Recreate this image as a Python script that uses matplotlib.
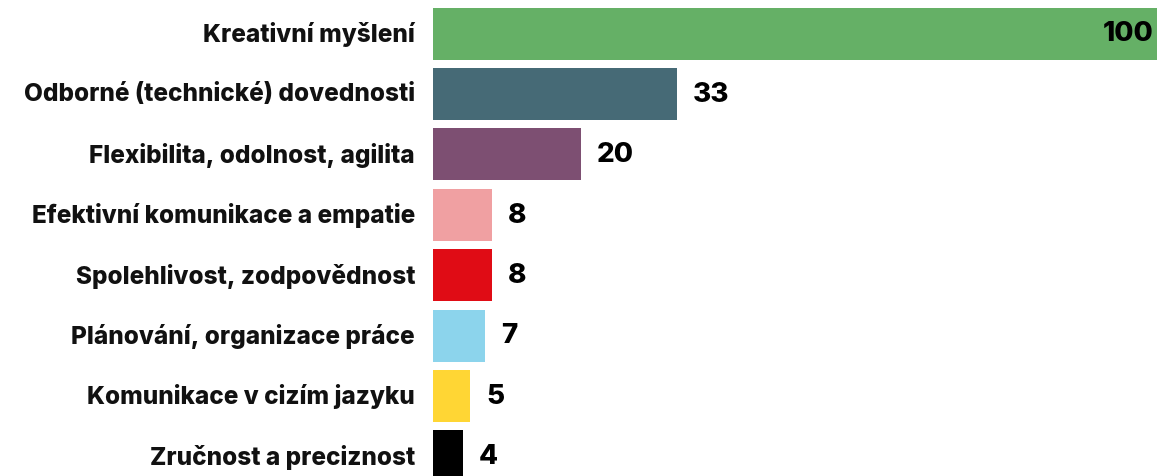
import matplotlib
matplotlib.use("Agg")
import matplotlib.pyplot as plt

categories = ["Kreativní myšlení", "Odborné (technické) dovednosti", "Flexibilita, odolnost, agilita",
              "Efektivní komunikace a empatie", "Spolehlivost, zodpovědnost", "Plánování, organizace práce",
              "Komunikace v cizím jazyku", "Zručnost a preciznost"]
values = [100, 33, 20, 8, 8, 7, 5, 4]
colors = ["#65b066", "#466a76", "#7d4f72", "#f0a0a2", "#e00c15", "#8cd4ec", "#ffd634", "#000000"]

W, H = 1157, 477
fig = plt.figure(figsize=(W/100, H/100), dpi=100)
x0 = 433
ax = fig.add_axes([x0/W, 0, 1 - x0/W, 1])
pitch = 60.4
c0 = 34.5
ax.set_ylim((H - c0)/pitch, -c0/pitch)
ax.set_xlim(0, (W - x0)/7.4)
ypos = list(range(len(categories)))
ax.barh(ypos, values, height=52/pitch, color=colors)
ax.axis("off")

font = dict(family=["Inter", "DejaVu Sans"], weight="heavy")
for y, cat, v in zip(ypos, categories, values):
    ax.annotate(cat, (0, y), xytext=(-18, 0), textcoords="offset pixels", ha="right", va="center",
                fontsize=17.5, color="#111111", annotation_clip=False, **font)
    if v == max(values):
        ax.annotate(str(v), (1.0, y), xycoords=("axes fraction", "data"), xytext=(-4, 0),
                    textcoords="offset pixels", ha="right", va="center",
                    fontsize=20, color="#000000", annotation_clip=False, **font)
    else:
        ax.annotate(str(v), (v, y), xytext=(16, 0), textcoords="offset pixels", ha="left", va="center",
                    fontsize=20, color="#000000", annotation_clip=False, **font)

fig.savefig("out.png", dpi=100)
